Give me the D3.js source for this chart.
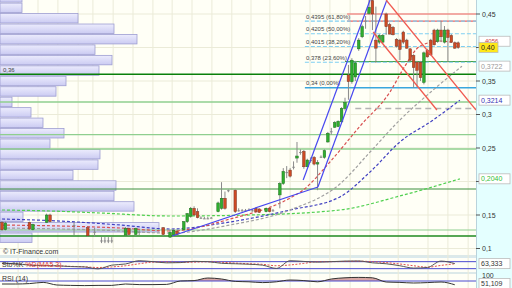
<!DOCTYPE html>
<html><head><meta charset="utf-8">
<script src="https://cdn.jsdelivr.net/npm/d3@7"></script>
<style>body{margin:0;background:#fff;}svg{display:block;font-family:"Liberation Sans",Arial,sans-serif;}</style>
</head><body><svg id="c" width="512" height="288"></svg>
<script>
// ---------- DATA ----------
const priceTicks = [0.1, 0.15, 0.2, 0.25, 0.3, 0.35, 0.4, 0.45];
// [dayIndex, open, high, low, close]
const candles = [
 [0,.139,.141,.126,.128],[1,.128,.140,.127,.138],[8,.139,.140,.128,.129],[9,.128,.137,.127,.136],
 [13,.139,.152,.138,.150],[14,.150,.152,.139,.140],[21,.135,.139,.120,.135],[25,.131,.132,.118,.119],
 [27,.125,.131,.118,.125],[29,.112,.117,.108,.112],[30,.112,.117,.108,.112],[31,.112,.117,.108,.112],
 [32,.112,.117,.108,.112],[36,.120,.132,.119,.130],[37,.130,.131,.119,.121],[39,.121,.131,.119,.130],
 [40,.125,.128,.120,.125],[47,.131,.132,.119,.121],[49,.117,.128,.116,.124],[50,.120,.129,.118,.127],
 [51,.126,.127,.119,.121],[53,.128,.141,.127,.140],[54,.140,.153,.138,.152],[55,.148,.162,.146,.160],
 [56,.160,.163,.149,.150],[57,.155,.160,.145,.146],[58,.146,.148,.144,.146],[59,.145,.147,.144,.145],
 [60,.145,.147,.144,.145],[61,.146,.147,.145,.146],[63,.155,.170,.154,.168],[64,.160,.199,.158,.175],
 [65,.175,.185,.158,.160],[66,.187,.188,.184,.187],[68,.187,.188,.153,.155],[69,.157,.160,.155,.157],
 [70,.157,.159,.155,.157],[71,.157,.159,.155,.157],[72,.158,.160,.156,.158],[73,.157,.159,.155,.157],
 [74,.160,.161,.154,.155],[75,.159,.160,.153,.154],[77,.155,.161,.154,.160],[78,.160,.161,.154,.155],
 [79,.157,.159,.155,.157],[81,.180,.199,.160,.197],[82,.197,.220,.195,.215],[83,.214,.223,.205,.214],
 [84,.217,.220,.206,.208],[85,.222,.230,.218,.222],[86,.235,.259,.228,.238],[87,.244,.248,.240,.244],
 [88,.245,.247,.219,.222],[89,.222,.234,.221,.232],[90,.232,.236,.228,.232],[91,.236,.238,.224,.226],
 [92,.226,.232,.187,.228],[93,.237,.239,.235,.237],[94,.236,.248,.234,.246],[95,.259,.274,.258,.272],
 [96,.275,.280,.270,.275],[97,.281,.290,.280,.288],[98,.282,.291,.281,.290],[99,.289,.311,.288,.309],
 [100,.309,.325,.306,.318],[101,.359,.374,.322,.349],[102,.349,.384,.346,.381],[103,.356,.380,.350,.377],
 [104,.398,.414,.395,.411],[105,.416,.434,.414,.431],[106,.440,.447,.428,.440],[107,.451,.471,.449,.460],
 [108,.470,.472,.426,.450],[109,.411,.461,.377,.399],[110,.408,.420,.405,.418],[111,.408,.420,.406,.418],
 [112,.450,.452,.419,.431],[113,.434,.437,.420,.420],[114,.430,.432,.418,.419],[115,.412,.414,.400,.402],
 [116,.411,.413,.381,.397],[117,.423,.425,.405,.408],[118,.411,.413,.398,.399],[119,.398,.399,.380,.381],
 [120,.388,.390,.340,.370],[121,.378,.380,.341,.366],[122,.378,.380,.350,.355],[123,.348,.394,.345,.392],
 [124,.396,.398,.385,.386],[125,.411,.413,.388,.389],[126,.426,.428,.403,.404],[127,.409,.428,.407,.426],
 [128,.426,.440,.408,.416],[129,.408,.432,.406,.426],[130,.426,.428,.378,.415],[131,.418,.420,.407,.408],
 [132,.407,.409,.398,.399],[133,.407,.409,.398,.400]
];
// volume-by-price profile (bins from bottom)
const profileLow = 0.1082, profileStep = 0.0156;
const profileVolumes = [320,1590,230,1340,1140,1160,730,980,1000,500,640,430,310,120,560,660,990,1120,950,1370,1140,780,220,220];
const profileLabel = 0.36;
// moving averages: [dayIndex, price]
const maRed   = [[0,.135],[16.9,.1336],[34.4,.1306],[49,.1261],[66.5,.144],[84,.1754],[87.8,.1873],[95.6,.2291],[104.4,.2828],[113.1,.3336],[117.5,.3724],[121.9,.4022],[127.7,.4097],[133,.4056]];
const maGray  = [[0,.1306],[28.6,.1276],[49,.1231],[66.5,.1351],[84,.1575],[98.5,.1963],[107.3,.244],[116,.2918],[125.7,.3366],[134.1,.3722]];
const maBlue  = [[0,.144],[16.9,.141],[34.4,.1351],[49,.1291],[66.5,.1396],[84,.1575],[98.5,.1769],[107.3,.2142],[116,.259],[125.7,.2918],[133.5,.3214]];
const maGreen = [[0,.1575],[14,.156],[28.6,.153],[49,.1485],[72.3,.15],[98.5,.1575],[116,.1784],[133.5,.204]];
// trend lines [[dayIndex, price],[dayIndex, price]]
const blueTrends = [[[49.6,.1187],[92.1,.1918]],[[92.1,.1918],[112.2,.4709]],[[87.8,.2022],[107.3,.4709]]];
const redTrends  = [[[112,.4709],[138.2,.3067]],[[108.2,.4231],[126.8,.3067]]];
// horizontal levels
const resistanceLevels = [0.45, 0.4395];
const fibPrices = [0.4395, 0.4205, 0.4015, 0.378, 0.34];
const fibPercents = ["61,80%", "50,00%", "38,20%", "23,60%", "0,00%"];
const greenLevels = [0.379, 0.36, 0.3187, 0.2699, 0.2485, 0.1888, 0.1276, 0.1187];
const grayLevel = 0.309;
const gridDays = [4.7,10.5,16.3,22.2,26.5,32.4,38.2,44,49.6,55.4,61.2,67,72.6,78.1,84,89.8,95.6,101.5,107.3,115.5,124.2,130,135.9];
// oscillators sampled every 4 days from day 0
const stochK = [66,62,50,45,44,38,35,18,50,60,88,80,70,72,83,80,66,62,58,50,22,88,82,76,80,85,86,70,62,45,25,30,85,63.333];
const stochD = [64,60,54,48,45,40,36,30,35,45,62,76,78,74,76,79,75,68,62,57,45,52,65,80,80,82,84,80,72,60,45,33,48,62];
const rsi    = [55,55,57,63,50,48,47,48,48,55,52,52,53,70,72,85,80,68,66,62,66,75,72,66,80,86,88,86,65,63,60,62,65,51.109];

// ---------- DRAW ----------
const svg = d3.select("#c");
const plotR = 476, plotB = 256;
const x = d3.scaleLinear().domain([0, 133]).range([2, 458.2]);
const y = d3.scaleLinear().domain([0.1, 0.45]).range([248.5, 14]);
const yS = d3.scaleLinear().domain([0, 100]).range([271, 259.33]);
const yR = d3.scaleLinear().domain([0, 100]).range([295, 275]);
const comma = s => s.replace(".", ",");
const lastOf = a => a[a.length-1];

const defs = svg.append("defs");
defs.append("clipPath").attr("id","main").append("rect").attr("x",0).attr("y",0).attr("width",plotR).attr("height",plotB);
defs.append("clipPath").attr("id","p1").append("rect").attr("x",0).attr("y",257).attr("width",plotR).attr("height",16);
defs.append("clipPath").attr("id","p2").append("rect").attr("x",0).attr("y",274).attr("width",plotR).attr("height",14);
const grad = defs.append("linearGradient").attr("id","bar").attr("x1",0).attr("x2",0).attr("y1",0).attr("y2",1);
grad.append("stop").attr("offset","0%").attr("stop-color","#ececfd");
grad.append("stop").attr("offset","100%").attr("stop-color","#cbcbf2");

// backgrounds
svg.append("rect").attr("width",512).attr("height",288).attr("fill","#fffff6");
svg.append("rect").attr("x",plotR).attr("width",512-plotR).attr("height",288).attr("fill","#e4ffff");
[[plotB,"#b9d3dc"],[plotB+1.5,"#d9e9ee"],[273,"#b9d3dc"]].forEach(([yy,c]) =>
  svg.append("line").attr("x1",0).attr("x2",plotR).attr("y1",yy).attr("y2",yy).attr("stroke",c).attr("stroke-width",1));

// grid
const g = svg.append("g");
g.selectAll(".vg").data(gridDays).join("line")
  .attr("x1",d=>x(d)).attr("x2",d=>x(d)).attr("y1",0).attr("y2",288)
  .attr("stroke","#ebebd8").attr("stroke-width",1);
g.selectAll(".hg").data(priceTicks).join("line")
  .attr("x1",0).attr("x2",plotR).attr("y1",d=>y(d)).attr("y2",d=>y(d))
  .attr("stroke","#ebebd8").attr("stroke-width",1);

const main = svg.append("g").attr("clip-path","url(#main)");

// volume profile
const vx = d3.scaleLinear().domain([0,1590]).range([0,159]);
main.selectAll(".pb").data(profileVolumes).join("rect")
  .attr("x",0).attr("y",(d,i)=>y(profileLow+(i+1)*profileStep)+0.5)
  .attr("width",d=>vx(d)).attr("height",(d,i)=>y(profileLow+i*profileStep)-y(profileLow+(i+1)*profileStep)-1)
  .attr("fill","url(#bar)").attr("stroke","#9d9dd2").attr("stroke-width",0.8);
main.append("text").attr("x",3).attr("y",y(profileLabel)-2).attr("font-size",6).attr("fill","#444").text(comma(String(profileLabel)));

// horizontal levels
const greenStyles = [["#3a9a3a",1],["#0a800a",1.6],["#8fcf8f",1.6],["#8fcf8f",1.4],["#8fcf8f",1.4],["#3f8f3f",1.2],["#8fcf8f",1.2],["#1f8a1f",1.4]];
main.selectAll(".gl").data(greenLevels).join("line")
  .attr("x1",(d,i)=>i===0?x(100):0).attr("x2",plotR).attr("y1",d=>y(d)).attr("y2",d=>y(d))
  .attr("stroke",(d,i)=>greenStyles[i][0]).attr("stroke-width",(d,i)=>greenStyles[i][1]);
main.append("line").attr("x1",x(103)).attr("x2",plotR).attr("y1",y(grayLevel)).attr("y2",y(grayLevel))
  .attr("stroke","#b4b4b4").attr("stroke-width",1.5).attr("stroke-dasharray","6,4");
main.selectAll(".rl").data(resistanceLevels).join("line")
  .attr("x1",x(100.6)).attr("x2",plotR).attr("y1",d=>y(d)).attr("y2",d=>y(d))
  .attr("stroke","#f06060").attr("stroke-width",1.2);
main.selectAll(".fl").data(fibPrices).join("line")
  .attr("x1",x(88.3)).attr("x2",plotR).attr("y1",d=>y(d)).attr("y2",d=>y(d))
  .attr("stroke",(d,i)=>i===4?"#3aa6dd":"#7fcff2").attr("stroke-width",(d,i)=>i===4?1.5:1.2)
  .attr("stroke-dasharray",(d,i)=>i===4?null:"4,2");
main.selectAll(".ft").data(fibPrices).join("text")
  .attr("x",x(88.3)+1).attr("y",d=>y(d)-2.5).attr("font-size",6).attr("fill","#444")
  .text((d,i)=>comma(String(d))+" ("+fibPercents[i]+")");

// moving averages
const line = d3.line().x(d=>x(d[0])).y(d=>y(d[1])).curve(d3.curveMonotoneX);
[[maGreen,"#4fd04f"],[maBlue,"#4040c0"],[maGray,"#a0a0a0"],[maRed,"#d85050"]].forEach(([data,c]) =>
  main.append("path").datum(data).attr("d",line).attr("fill","none").attr("stroke",c)
    .attr("stroke-width",1.2).attr("stroke-dasharray","3,2"));

// candles
const cw = 2.6;
const cg = main.append("g");
cg.selectAll(".wk").data(candles).join("line")
  .attr("x1",d=>x(d[0])).attr("x2",d=>x(d[0])).attr("y1",d=>y(d[2])).attr("y2",d=>y(d[3]))
  .attr("stroke","#8a8a8a").attr("stroke-width",1);
cg.selectAll(".bd").data(candles).join("rect")
  .attr("x",d=>x(d[0])-cw/2).attr("width",cw)
  .attr("y",d=>y(Math.max(d[1],d[4])))
  .attr("height",d=>Math.max(1,Math.abs(y(d[1])-y(d[4]))))
  .attr("fill",d=>d[4]>d[1]?"#2fae2f":d[4]<d[1]?"#cf4a24":"#8a8a8a")
  .attr("stroke",d=>d[4]>d[1]?"#1f6f1f":d[4]<d[1]?"#7a3a2a":"none").attr("stroke-width",0.5);

// trend lines
const sline = d3.line().x(d=>x(d[0])).y(d=>y(d[1]));
main.selectAll(".bt").data(blueTrends).join("path").attr("d",sline).attr("fill","none").attr("stroke","#4848f0").attr("stroke-width",1.2);
main.selectAll(".rt").data(redTrends).join("path").attr("d",sline).attr("fill","none").attr("stroke","#f05a50").attr("stroke-width",1.3);

main.append("text").attr("x",3).attr("y",254).attr("font-size",7).attr("fill","#333").text("\u00a9 IT-Finance.com");

// ---------- oscillators ----------
const oi = (d,i)=>x(i*4);
const p1 = svg.append("g").attr("clip-path","url(#p1)");
p1.append("path").datum(stochK).attr("fill","#e2aaa6")
  .attr("d",d3.area().x(oi).y0(yS(80)).y1(d=>yS(Math.max(d,80))).curve(d3.curveMonotoneX));
p1.append("path").datum(stochK).attr("fill","#a9c4ee")
  .attr("d",d3.area().x(oi).y0(yS(20)).y1(d=>yS(Math.min(d,20))).curve(d3.curveMonotoneX));
[80,20].forEach(v=>p1.append("line").attr("x1",0).attr("x2",plotR).attr("y1",yS(v)).attr("y2",yS(v)).attr("stroke","#4a4ad0").attr("stroke-width",1));
p1.append("path").datum(stochD).attr("fill","none").attr("stroke","#e05050").attr("stroke-width",1).attr("stroke-dasharray","2,1.5")
  .attr("d",d3.line().x(oi).y(d=>yS(d)).curve(d3.curveMonotoneX));
p1.append("path").datum(stochK).attr("fill","none").attr("stroke","#555").attr("stroke-width",1)
  .attr("d",d3.line().x(oi).y(d=>yS(d)).curve(d3.curveMonotoneX));
const t1 = p1.append("text").attr("x",2).attr("y",267).attr("font-size",7);
t1.append("tspan").attr("fill","#333").text("Sto%K");
t1.append("tspan").attr("fill","#e04040").text(" %D(MA5 3)");

const p2 = svg.append("g").attr("clip-path","url(#p2)");
p2.append("path").datum(rsi).attr("fill","#d9a7a3")
  .attr("d",d3.area().x(oi).y0(yR(70)).y1(d=>yR(Math.max(d,70))).curve(d3.curveMonotoneX));
p2.append("line").attr("x1",0).attr("x2",plotR).attr("y1",yR(70)).attr("y2",yR(70)).attr("stroke","#4a4ad0").attr("stroke-width",1);
p2.append("path").datum(rsi).attr("fill","none").attr("stroke","#333").attr("stroke-width",1)
  .attr("d",d3.line().x(oi).y(d=>yR(d)).curve(d3.curveMonotoneX));
p2.append("text").attr("x",2).attr("y",281).attr("font-size",7).attr("fill","#333").text("RSI (14)");

// ---------- right axis ----------
svg.append("line").attr("x1",plotR+0.5).attr("x2",plotR+0.5).attr("y1",0).attr("y2",288).attr("stroke","#b9d3dc");
const ax = svg.append("g");
// value boxes (drawn over the axis) and the tick labels they would hide
const boxes = [
  [y(lastOf(maRed)[1]), comma(d3.format(".4f")(lastOf(maRed)[1])), "#d04040", "#fff", 31],
  [y(lastOf(candles)[4]), comma(d3.format(".2f")(lastOf(candles)[4])), "#222", "#ffe81a", 19],
  [y(lastOf(maGray)[1]), comma(d3.format(".4f")(lastOf(maGray)[1])), "#999", "#fff", 31],
  [y(lastOf(maBlue)[1]), comma(d3.format(".4f")(lastOf(maBlue)[1])), "#3535b5", "#fff", 31],
  [y(lastOf(maGreen)[1]), comma(d3.format(".4f")(lastOf(maGreen)[1])), "#35c035", "#fff", 31],
  [yS(lastOf(stochK)), comma(d3.format(".3f")(lastOf(stochK))), "#333", "#fff", 31],
  [Math.min(yR(lastOf(rsi)),283.5), comma(d3.format(".3f")(lastOf(rsi))), "#333", "#fff", 31]
];
const hidden = t => boxes.some(b => Math.abs(b[0]-y(t)) < 8);
ax.selectAll(".tk").data(priceTicks).join("line")
  .attr("x1",plotR).attr("x2",plotR+4).attr("y1",d=>y(d)).attr("y2",d=>y(d)).attr("stroke","#555");
ax.selectAll(".tl").data(priceTicks.filter(t=>!hidden(t))).join("text")
  .attr("x",plotR+6).attr("y",d=>y(d)+2.5).attr("font-size",7).attr("fill","#333")
  .text(d=>comma(String(d)));
ax.append("text").attr("x",plotR+6).attr("y",yR(100)+2.5).attr("font-size",7).attr("fill","#333").text("100");

boxes.forEach(([yc, txt, col, fill, w], k) => {
  const yy = k===0 ? yc-2.5 : yc;
  ax.append("rect").attr("x",plotR+3).attr("y",yy-5).attr("width",w).attr("height",10)
    .attr("fill",fill).attr("stroke","#bbb").attr("stroke-width",0.8);
  ax.append("text").attr("x",k===0?plotR+5+(w-27):plotR+5).attr("y",yy+(k===0?1.5:2.5)).attr("font-size",k===0?6:7).attr("fill",col)
    .text(k===0 ? txt.slice(2) : txt);
});
</script></body></html>
